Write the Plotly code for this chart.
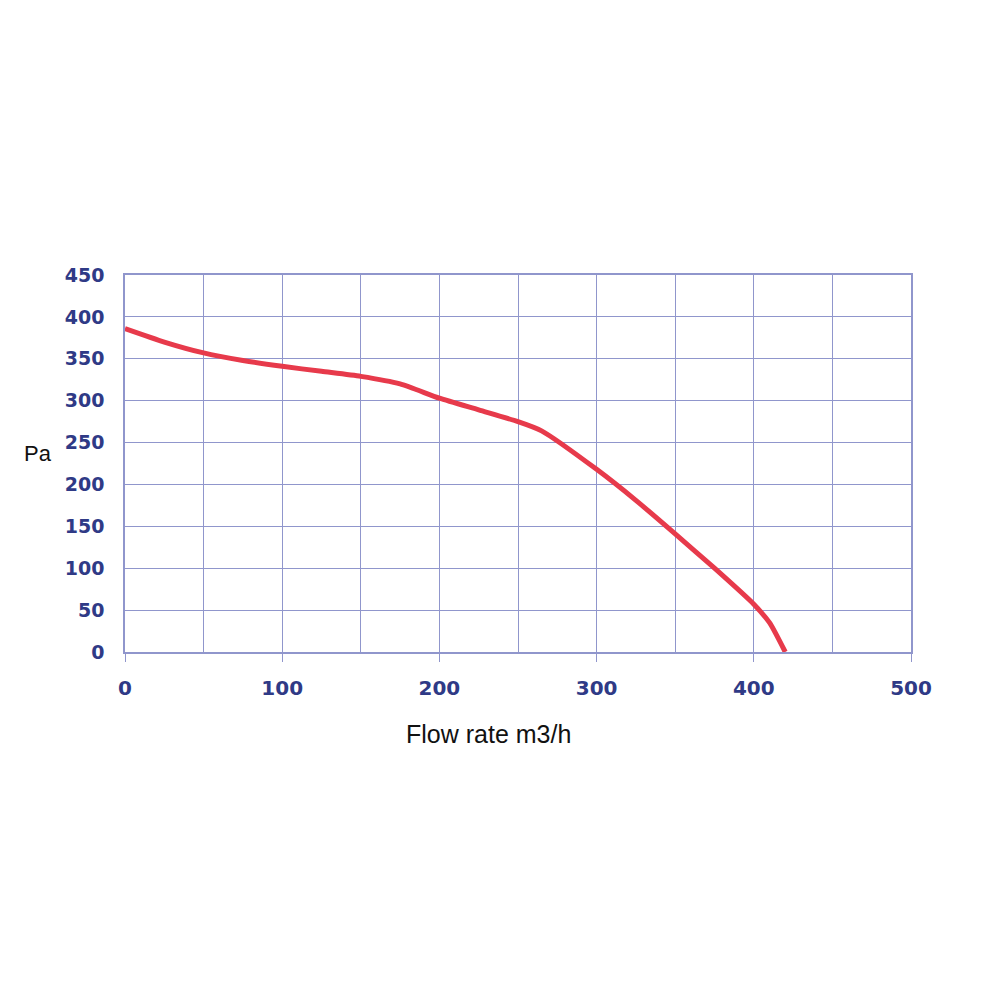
import plotly.graph_objects as go

flow = [0, 25, 50, 75, 100, 125, 150, 175, 200, 225, 250, 265, 300, 325, 350, 375, 400, 410, 420]
pressure = [386, 370, 357, 348, 341, 335, 329, 320, 303, 289, 275, 264, 218, 181, 141, 100, 57, 35, 0]

x_ticks = [0, 100, 200, 300, 400, 500]
y_ticks = [0, 50, 100, 150, 200, 250, 300, 350, 400, 450]

grid = "#9096cc"
tick_col = "#2f3a86"

fig = go.Figure()
fig.add_trace(go.Scatter(x=flow, y=pressure, mode="lines",
                         line=dict(color="#e73a4b", width=5, shape="spline", smoothing=0.6),
                         showlegend=False))

L, R, T, B = 117, 97, 267, 356
fig.update_layout(
    width=1000, height=1000,
    paper_bgcolor="white", plot_bgcolor="white",
    margin=dict(l=L, r=R, t=T, b=B),
    font=dict(family="Liberation Sans, Arial, sans-serif"),
    xaxis=dict(range=[0, 500], tickvals=x_ticks, showgrid=True, gridcolor=grid, gridwidth=1,
               minor=dict(dtick=50, showgrid=True, gridcolor=grid, gridwidth=1),
               showline=True, linecolor=grid, linewidth=1.5, mirror=True,
               ticks="outside", ticklen=8, tickcolor=grid,
               tickfont=dict(size=20, color=tick_col, family="DejaVu Sans", weight="bold"),
               ticklabelstandoff=9, zeroline=False),
    yaxis=dict(range=[0, 450], tickvals=y_ticks, showgrid=True, gridcolor=grid, gridwidth=1,
               showline=True, linecolor=grid, linewidth=1.5, mirror=True,
               ticks="", tickfont=dict(size=19, color=tick_col, family="DejaVu Sans", weight="bold"),
               ticklabelstandoff=15, zeroline=False),
)
# annotation positions: page pixels converted to paper coords (plot area 124..911 x 274..651 on page)
pw, ph = 1000 - L - R, 1000 - T - B
x0, y0 = 124, 651
fig.add_annotation(text="Pa", x=(37 - x0) / pw, y=(y0 - 452) / ph,
                   xref="paper", yref="paper", showarrow=False,
                   xanchor="center", yanchor="middle",
                   font=dict(size=22, color="#111111"))
fig.add_annotation(text="Flow rate m3/h", x=(487 - x0) / pw, y=(y0 - 733) / ph,
                   xref="paper", yref="paper", showarrow=False,
                   xanchor="center", yanchor="middle",
                   font=dict(size=25, color="#111111"))

fig.write_html("out.html")
